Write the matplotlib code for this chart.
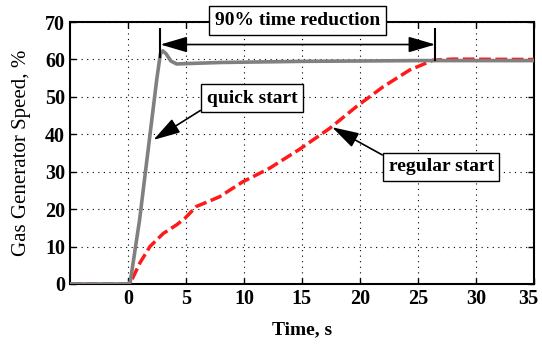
import matplotlib.pyplot as plt
import matplotlib.transforms as mtransforms
import numpy as np

plt.rcParams['font.family'] = ['Liberation Serif', 'DejaVu Serif']

# quick start curve
t_quick = [-5, 0, 0.2, 1.0, 1.75, 2.5, 2.8, 3.0, 3.3, 3.7, 4.2, 5, 8, 15, 25, 35]
y_quick = [0, 0, 0.5, 17, 36, 55, 61.5, 62.3, 61.5, 59.6, 58.8, 58.9, 59.2, 59.5, 59.7, 59.7]

# regular start curve
t_reg = [-5, 0, 0.17, 1.03, 1.9, 3.05, 4.2, 4.9, 5.9, 7.9, 9.9, 12.2, 14.8, 17.4, 19.7, 22.0, 24.3, 26.3, 28, 35]
y_reg = [0, 0, 0, 5.6, 10, 13.5, 15.8, 17.5, 20.7, 23.3, 27.3, 30.9, 36.0, 41.6, 47.4, 52.7, 57.2, 59.8, 60.1, 60.0]

x_ticks = [0, 5, 10, 15, 20, 25, 30, 35]
y_ticks = [0, 10, 20, 30, 40, 50, 60, 70]

fig = plt.figure(figsize=(5.42, 3.45), dpi=100)
ax = fig.add_axes([0.129, 0.177, 0.856, 0.759])

ax.plot(t_reg, y_reg, color='#ff1a1a', lw=2.5, dashes=(3.4, 1.3), zorder=3)
ax.plot(t_quick, y_quick, color='#808080', lw=2.6, zorder=4)

ax.set_xlim(-5, 35)
ax.set_ylim(0, 70)
ax.set_xticks(x_ticks)
ax.set_yticks(y_ticks)
ax.grid(True, color='black', linestyle=(0, (1, 4)), lw=0.8)
ax.tick_params(direction='in', top=True, right=True, length=4, labelsize=14.5, width=1)
for lab in ax.get_xticklabels() + ax.get_yticklabels():
    lab.set_fontweight('bold')
last = ax.get_xticklabels()[-1]
last.set_transform(last.get_transform() + mtransforms.ScaledTranslation(-4 / 72, 0, fig.dpi_scale_trans))
for s in ax.spines.values():
    s.set_linewidth(1.5)

ax.set_xlabel('Time, s', fontsize=14, fontweight='bold', labelpad=9)
ax.set_ylabel('Gas Generator Speed, %', fontsize=15, labelpad=10)

box = dict(boxstyle='square,pad=0.3', fc='white', ec='black', lw=1)
head = '-|>,head_length=0.75,head_width=0.22'
head2 = '<|-|>,head_length=0.75,head_width=0.22'

# 90% time reduction
ax.annotate('', xy=(2.8, 64), xytext=(26.5, 64),
            arrowprops=dict(arrowstyle=head2, color='black', lw=1.2,
                            mutation_scale=22, shrinkA=0, shrinkB=0))
ax.plot([2.8, 2.8], [60.6, 68.1], color='black', lw=1.5, zorder=5)
ax.plot([26.5, 26.5], [59.8, 68.1], color='black', lw=1.5, zorder=5)
ax.text(14.66, 70.5, '90% time reduction', fontsize=14, fontweight='bold',
        ha='center', va='center', bbox=box, zorder=6)

# quick start
ax.annotate('quick start', xy=(2.2, 38.5), xytext=(10.7, 49.7),
            fontsize=14, fontweight='bold', ha='center', va='center', bbox=box,
            arrowprops=dict(arrowstyle=head, color='black', lw=1.2,
                            mutation_scale=22, shrinkA=0, shrinkB=0, relpos=(0, 0)))

# regular start
ax.annotate('regular start', xy=(17.6, 41.9), xytext=(27.0, 31.3),
            fontsize=14, fontweight='bold', ha='center', va='center', bbox=box,
            arrowprops=dict(arrowstyle=head, color='black', lw=1.2,
                            mutation_scale=22, shrinkA=0, shrinkB=0, relpos=(0, 1)))

fig.savefig('out.png', dpi=100)
